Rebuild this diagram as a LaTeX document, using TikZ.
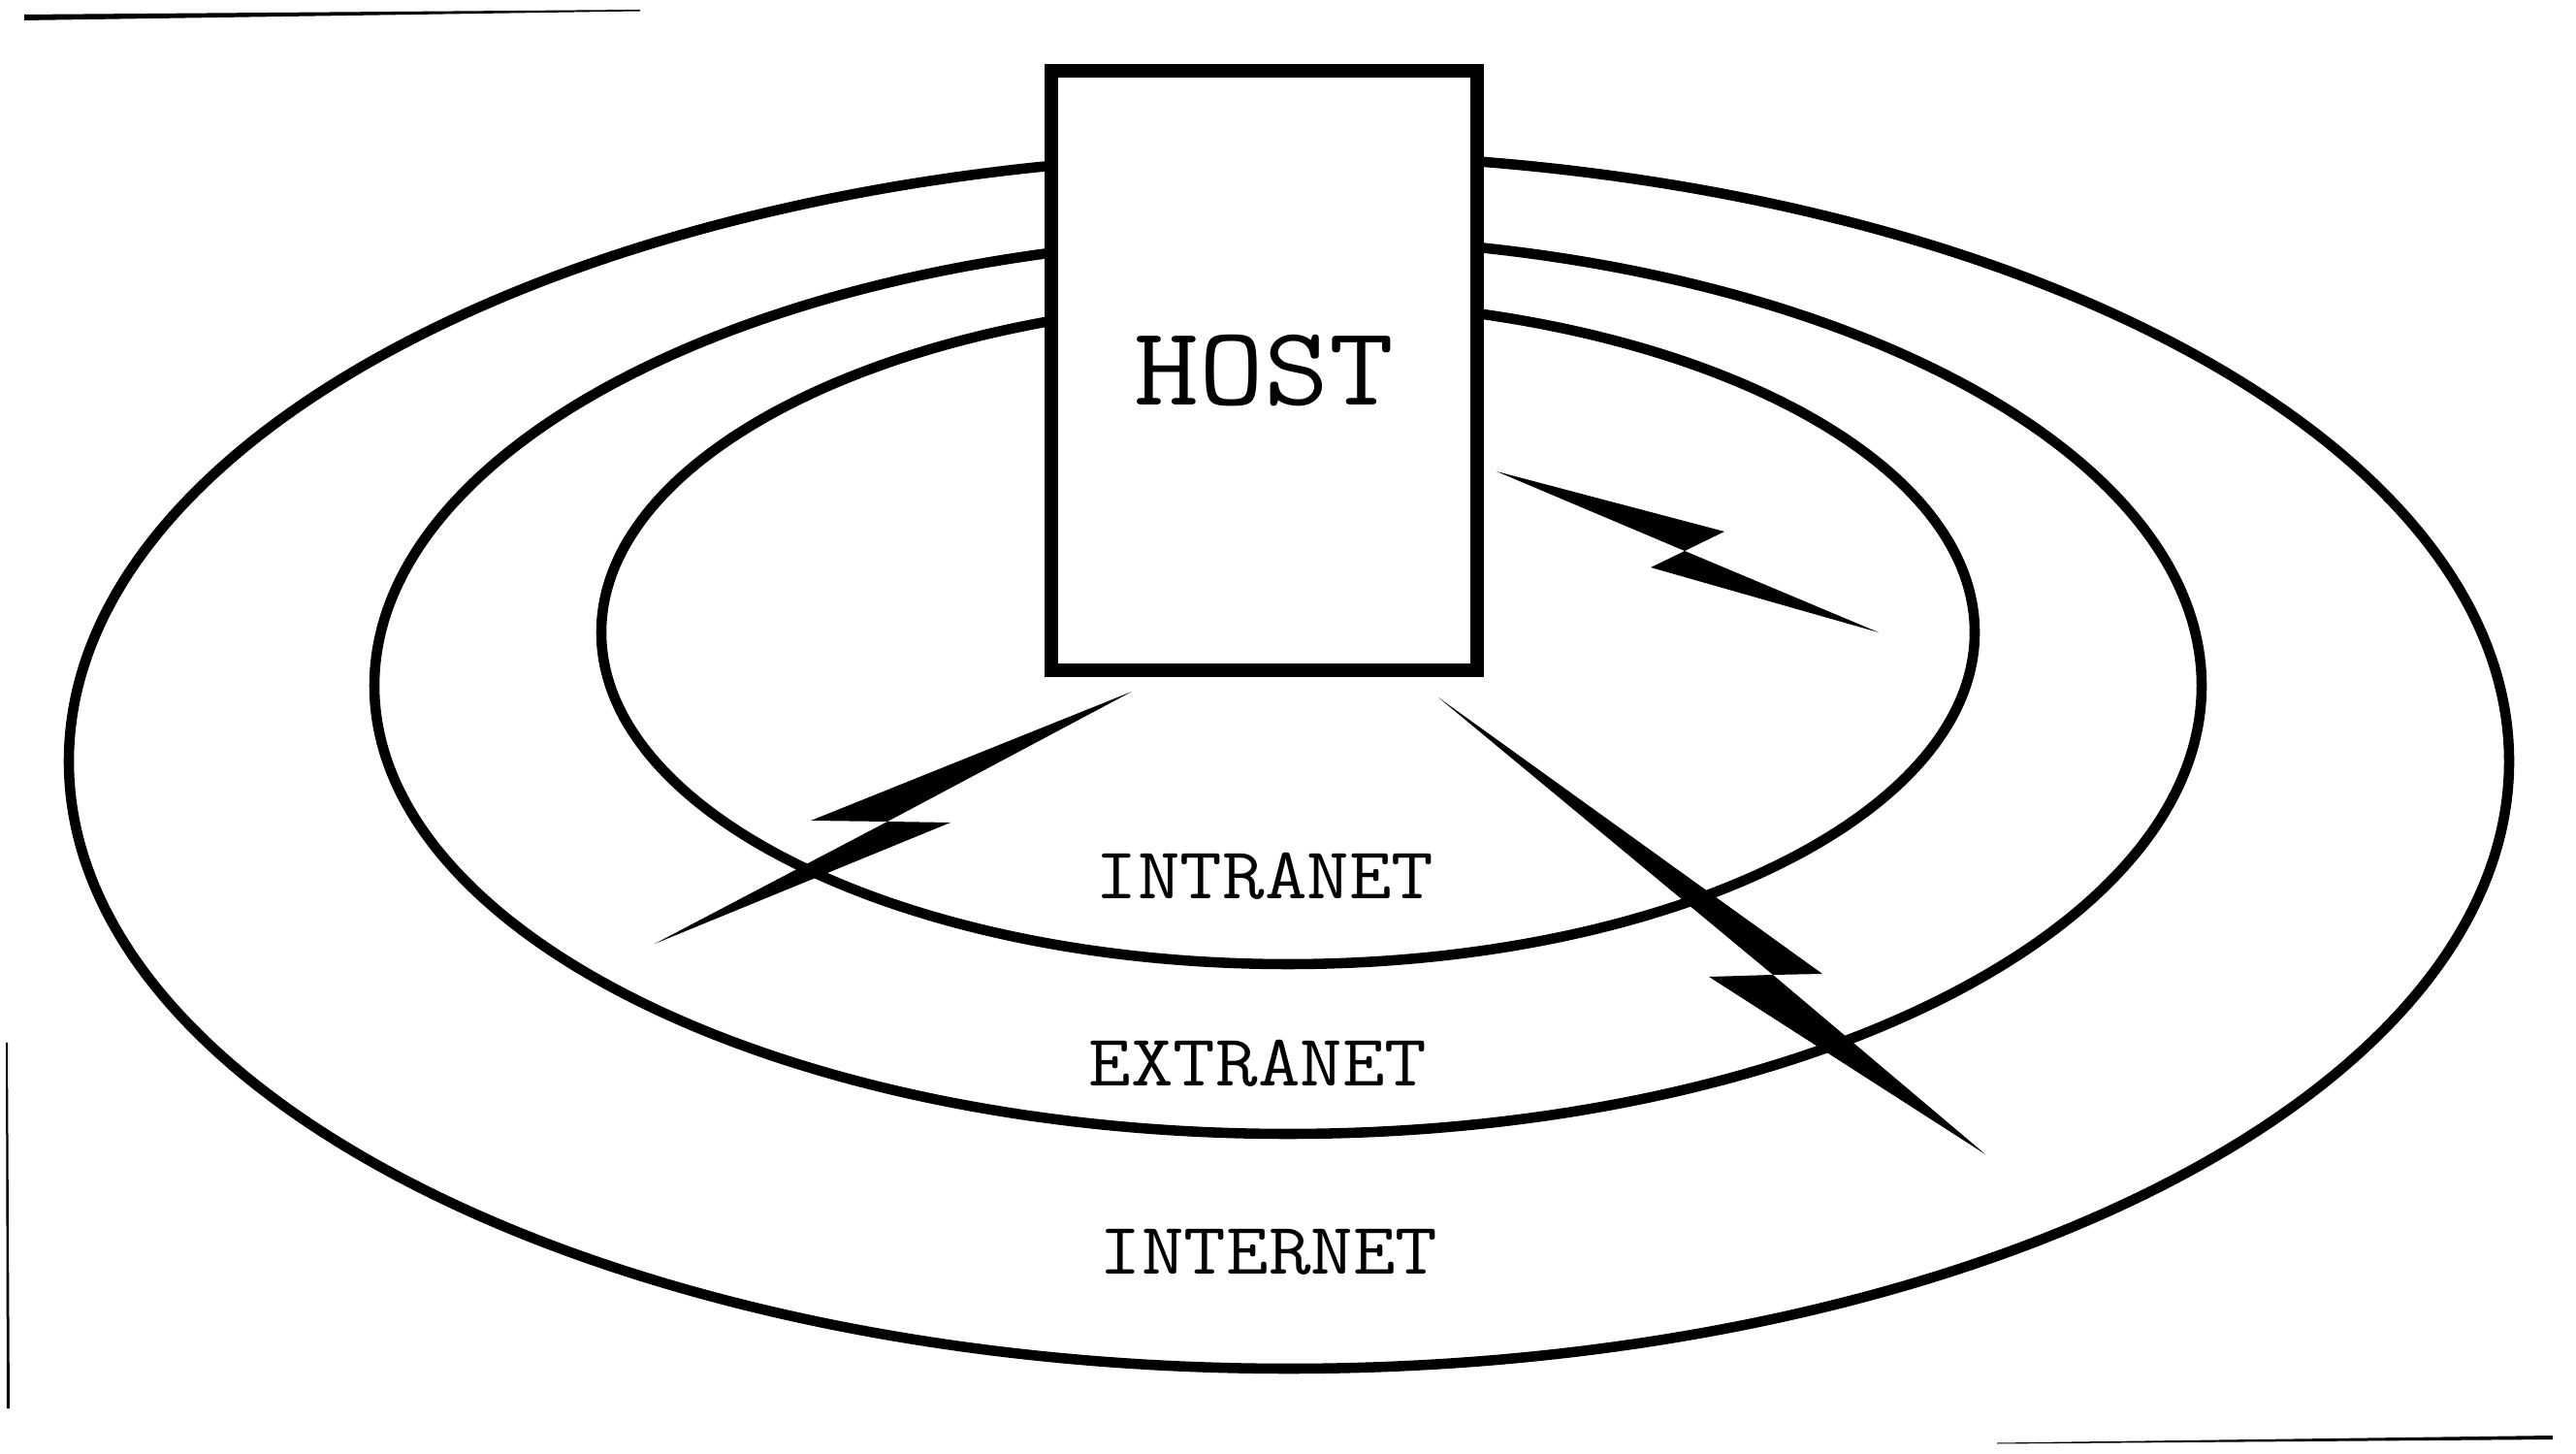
\documentclass[tikz,border=0pt]{standalone}
\usepackage{fontspec}
\setmonofont{Latin Modern Mono}[FakeStretch=1.12]

\begin{document}
\begin{tikzpicture}[
    font=\ttfamily,
    ring/.style={draw=black, line width=3pt},
    hostbox/.style={rectangle, draw=black, line width=3.8pt, fill=white,
        minimum width=4.39cm, minimum height=6.18cm, inner sep=0pt,
        font=\ttfamily\fontsize{33}{38}\selectfont},
    netlabel/.style={font=\ttfamily\fontsize{21.5}{26}\selectfont, inner sep=0pt},
    bolt/.style={fill=black, draw=none},
    scanedge/.style={fill=black, draw=none},
]
\useasboundingbox (0,0) rectangle (26.56,14.98);

% rings
\draw[ring] (13.29,7.13) ellipse [x radius=12.58, y radius=6.26];
\draw[ring] (13.28,7.91) ellipse [x radius=9.42, y radius=4.62];
\draw[ring] (13.28,8.46) ellipse [x radius=7.08, y radius=3.42];

% host
\node[hostbox] (host) at (13.035,11.16) {HOST};

% ring labels
\node[netlabel] (intranet) at (13.04,5.95) {INTRANET};
\node[netlabel] (extranet) at (12.97,4.02) {EXTRANET};
\node[netlabel] (internet) at (13.08,2.07) {INTERNET};

% lightning bolts
\fill[bolt] (15.43,10.12) -- (17.78,9.50) -- (17.37,9.30) -- (19.37,8.46)
    -- (17.02,9.13) -- (17.37,9.30) -- cycle;
\fill[bolt] (11.67,7.85) -- (8.36,6.52) -- (9.15,6.51) -- (6.75,5.25)
    -- (9.80,6.50) -- (9.15,6.51) -- cycle;
\fill[bolt] (14.83,7.79) -- (18.79,4.94) -- (18.28,4.93) -- (20.47,3.08)
    -- (17.62,4.91) -- (18.28,4.93) -- cycle;

% scan edges
\fill[scanedge] (0.25,14.77) -- (0.25,14.83) -- (6.60,14.88) -- (6.60,14.865) -- cycle;
\fill[scanedge] (20.59,0.095) -- (26.32,0.14) -- (26.32,0.18) -- (20.59,0.105) -- cycle;
\fill[scanedge] (0.06,4.23) -- (0.08,4.23) -- (0.10,0.46) -- (0.07,0.46) -- cycle;

\end{tikzpicture}
\end{document}
